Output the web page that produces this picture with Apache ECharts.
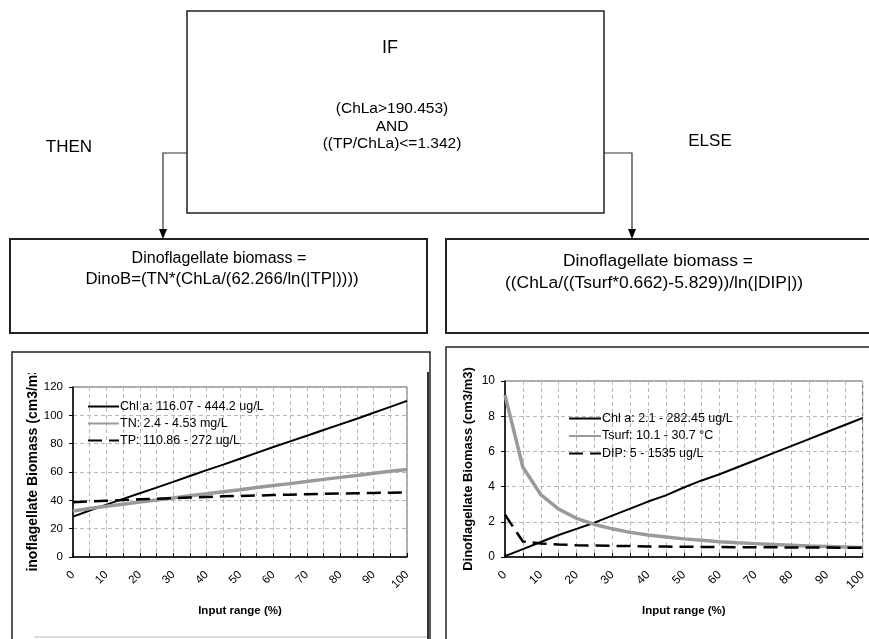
<!DOCTYPE html>
<html>
<head>
<meta charset="utf-8">
<script src="https://cdn.jsdelivr.net/npm/echarts@6/dist/echarts.min.js"></script>
<style>
    body { margin: 0; background: #fff; }
    #chart_div { width: 869px; height: 639px; }
</style>
</head>
<body>
<div id="chart_div"></div>
<script>
// ----------- 数据 - start -----------
// 输入范围 (%)
var input_pct = [0, 5, 10, 15, 20, 25, 30, 35, 40, 45, 50, 55, 60, 65, 70, 75, 80, 85, 90, 95, 100]

// THEN 分支
var then_names = ["Chl a: 116.07 - 444.2 ug/L", "TN: 2.4 - 4.53 mg/L", "TP: 110.86 - 272 ug/L"]
var then_chla = [28.5, 32.8, 37.0, 41.0, 45.0, 49.0, 53.0, 57.2, 61.3, 65.2, 69.4, 73.5, 77.6, 81.6, 85.6, 89.6, 93.6, 97.6, 101.8, 106.0, 110.2]
var then_tn = [32.5, 34.2, 35.8, 37.3, 38.8, 40.2, 41.7, 43.2, 44.6, 46.1, 47.5, 49.0, 50.4, 51.8, 53.3, 54.8, 56.2, 57.6, 59.1, 60.5, 61.8]
var then_tp = [38.6, 39.2, 39.7, 40.2, 40.7, 41.1, 41.6, 42.0, 42.4, 42.8, 43.1, 43.4, 43.7, 44.0, 44.3, 44.6, 44.8, 45.0, 45.2, 45.4, 45.5]

// ELSE 分支
var else_names = ["Chl a: 2.1 - 282.45 ug/L", "Tsurf: 10.1 - 30.7 °C", "DIP: 5 - 1535 ug/L"]
var else_chla = [0.05, 0.45, 0.85, 1.25, 1.6, 1.95, 2.35, 2.75, 3.15, 3.5, 3.95, 4.35, 4.7, 5.1, 5.5, 5.9, 6.3, 6.7, 7.1, 7.5, 7.9]
var else_tsurf = [9.2, 5.1, 3.55, 2.72, 2.2, 1.85, 1.6, 1.4, 1.25, 1.13, 1.03, 0.95, 0.87, 0.81, 0.76, 0.71, 0.67, 0.63, 0.6, 0.57, 0.54]
var else_dip = [2.4, 0.88, 0.77, 0.71, 0.67, 0.65, 0.63, 0.62, 0.6, 0.59, 0.58, 0.575, 0.565, 0.56, 0.555, 0.55, 0.545, 0.54, 0.535, 0.53, 0.525]

// 流程图文字
var if_lines = ["(ChLa>190.453)", "AND", "((TP/ChLa)<=1.342)"]
var then_formula = ["Dinoflagellate biomass =", "DinoB=(TN*(ChLa/(62.266/ln(|TP|))))"]
var else_formula = ["Dinoflagellate biomass =", "((ChLa/((Tsurf*0.662)-5.829))/ln(|DIP|))"]
var x_title = "Input range (%)"
var y_title = "Dinoflagellate Biomass (cm3/m3)"
// ----------- 数据 - end -----------

var sans = "'Liberation Sans', Arial, sans-serif"

function zip(xs, ys) {
    var out = []
    for (var i = 0; i < xs.length; i++) {
        out.push([xs[i], ys[i]])
    }
    return out
}

function x_axis(grid_index, font_size, title_size) {
    return {
        gridIndex: grid_index,
        type: "value",
        min: 0,
        max: 100,
        interval: 5,
        name: x_title,
        nameLocation: "middle",
        nameGap: 48,
        nameTextStyle: { fontFamily: sans, fontWeight: "bold", fontSize: title_size, color: "#000" },
        axisLine: { lineStyle: { color: "#000", width: 1.5 } },
        axisTick: { inside: true, length: 4, lineStyle: { color: "#000" } },
        axisLabel: {
            rotate: 45,
            margin: 16,
            fontFamily: sans,
            fontSize: font_size,
            color: "#000",
            formatter: function (value) {
                return value % 10 == 0 ? value : ""
            }
        },
        splitLine: { show: true, lineStyle: { color: "#b8b8b8", type: [4, 3] } }
    }
}

function y_axis(grid_index, max, interval, font_size, title_size) {
    return {
        gridIndex: grid_index,
        type: "value",
        min: 0,
        max: max,
        interval: interval,
        name: y_title,
        nameLocation: "middle",
        nameGap: 30,
        nameTextStyle: { fontFamily: sans, fontWeight: "bold", fontSize: title_size, color: "#000" },
        axisLine: { show: true, lineStyle: { color: "#000", width: 1.5 } },
        axisTick: { show: true, length: 4, lineStyle: { color: "#000" } },
        axisLabel: { margin: 10, fontFamily: sans, fontSize: font_size, color: "#000" },
        splitLine: { show: true, lineStyle: { color: "#b8b8b8", type: [4, 3] } }
    }
}

function line_series(name, idx, data, kind) {
    var style = { color: "#000", width: 2 }
    if (kind == "gray") style = { color: "#9a9a9a", width: 3.5 }
    if (kind == "dash") style = { color: "#000", width: 2.5, type: [14, 7] }
    return {
        name: name,
        type: "line",
        xAxisIndex: idx,
        yAxisIndex: idx,
        data: data,
        symbol: "none",
        color: style.color,
        lineStyle: style,
        silent: true,
        animation: false
    }
}

function legend_box(names, left, top, width, gap, size) {
    return {
        data: names,
        orient: "vertical",
        left: left,
        top: top,
        padding: 0,
        itemWidth: width,
        itemHeight: 14,
        itemGap: gap,
        itemStyle: { opacity: 0 },
        textStyle: { fontFamily: sans, fontSize: size, color: "#000", padding: [0, 0, 0, -4] },
        selectedMode: false
    }
}

// ---------------- 流程图 ----------------
function box(x, y, w, h, lw) {
    return { type: "rect", silent: true, z: 1, shape: { x: x, y: y, width: w, height: h }, style: { fill: null, stroke: "#222", lineWidth: lw } }
}
function label(text, x, y, size) {
    return { type: "text", silent: true, z: 5, x: x, y: y, style: { text: text, font: size + "px " + sans, fill: "#000", align: "center", verticalAlign: "middle" } }
}
function arrow(x_from, x_to, y_line, y_tip) {
    return [
        { type: "polyline", silent: true, shape: { points: [[x_from, y_line], [x_to, y_line], [x_to, y_tip - 9]] }, style: { fill: null, stroke: "#333", lineWidth: 1.2 } },
        { type: "polygon", silent: true, shape: { points: [[x_to - 4, y_tip - 10], [x_to + 4, y_tip - 10], [x_to, y_tip]] }, style: { fill: "#000" } }
    ]
}

var graphic = [
    box(187, 11, 417, 202, 1.5),
    box(10, 239, 417, 94, 2),
    box(446, 239, 440, 94, 2),
    box(12, 352, 418, 300, 1.5),
    box(446, 347, 440, 300, 1.5),
    { type: "line", silent: true, shape: { x1: 428, y1: 372, x2: 428, y2: 639 }, style: { stroke: "#333", lineWidth: 2 } },
    { type: "line", silent: true, shape: { x1: 34, y1: 637, x2: 427, y2: 637 }, style: { stroke: "#cfcfcf", lineWidth: 1.5 } },
    label("IF", 390, 48, 18),
    label("THEN", 69, 147, 17),
    label("ELSE", 710, 141, 17),
    label(if_lines[0], 392, 109, 15.5),
    label(if_lines[1], 392, 127, 15.5),
    label(if_lines[2], 392, 144, 15.5),
    label(then_formula[0], 219, 259, 16),
    label(then_formula[1], 222, 279, 16.8),
    label(else_formula[0], 658, 261, 17.4),
    label(else_formula[1], 654, 283, 17.4),
    // 左图 y 轴标题被裁切
    { type: "rect", silent: true, z: 100, shape: { x: 24, y: 354, width: 22, height: 19 }, style: { fill: "#fff" } },
    { type: "rect", silent: true, z: 100, shape: { x: 24, y: 572, width: 22, height: 30 }, style: { fill: "#fff" } }
].concat(arrow(187, 163, 153, 239)).concat(arrow(604, 632, 153, 239))

var chart = echarts.init(document.getElementById("chart_div"))

var option = {
    backgroundColor: "#fff",
    animation: false,
    grid: [
        { left: 73, top: 387, width: 334, height: 170, show: true, borderColor: "#555", borderWidth: 1, backgroundColor: "transparent" },
        { left: 505, top: 381, width: 360, height: 176, show: true, borderColor: "#555", borderWidth: 1, backgroundColor: "transparent" }
    ],
    xAxis: [x_axis(0, 11.5, 11.5), x_axis(1, 12, 11.5)],
    yAxis: [y_axis(0, 120, 20, 11.5, 14), y_axis(1, 10, 2, 12, 13)],
    legend: [
        legend_box(then_names, 87, 400, 31, 4, 12.5),
        legend_box(else_names, 568, 412, 32, 4.5, 12.5)
    ],
    series: [
        line_series(then_names[0], 0, zip(input_pct, then_chla), "solid"),
        line_series(then_names[1], 0, zip(input_pct, then_tn), "gray"),
        line_series(then_names[2], 0, zip(input_pct, then_tp), "dash"),
        line_series(else_names[0], 1, zip(input_pct, else_chla), "solid"),
        line_series(else_names[1], 1, zip(input_pct, else_tsurf), "gray"),
        line_series(else_names[2], 1, zip(input_pct, else_dip), "dash")
    ],
    graphic: graphic
}

chart.setOption(option)
</script>
</body>
</html>
